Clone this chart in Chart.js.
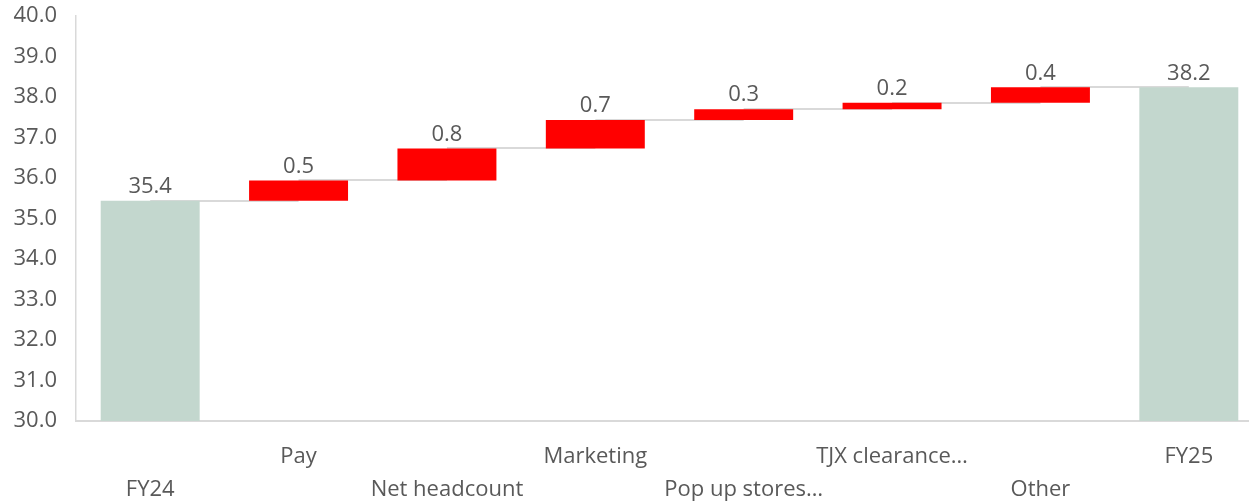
<!DOCTYPE html>
<html>
<head>
<meta charset="utf-8">
<script src="https://cdn.jsdelivr.net/npm/chart.js@4"></script>
<style>
  html, body { margin: 0; padding: 0; background: #fff; overflow: hidden; }
</style>
</head>
<body>
<canvas id="chart" width="1263" height="502"></canvas>
<script>
// labels are staggered on two rows like the original
const categories = [
  ['', 'FY24'], ['Pay', ''], ['', 'Net headcount'], ['Marketing', ''],
  ['', 'Pop up stores…'], ['TJX clearance…', ''], ['', 'Other'], ['FY25', '']
];
const openingValue = 35.44;
const changes = [0.50, 0.79, 0.70, 0.27, 0.16, 0.38];
const closingValue = 38.24;
const yTicks = { min: 30, max: 40, step: 1 };

const TEXT = '#595959';
const LINE = '#d9d9d9';
const TOTAL_COLOR = '#c3d7ce';
const UP_COLOR = '#ff0000';
const FONT = '"Open Sans", sans-serif';

// build floating bars [from, to]
const ranges = [[yTicks.min, openingValue]];
const shown = [openingValue];
let level = openingValue;
changes.forEach(c => {
  ranges.push([level, level + c]);
  shown.push(c);
  level += c;
});
ranges.push([yTicks.min, closingValue]);
shown.push(closingValue);
const colors = ranges.map((r, i) => (i === 0 || i === ranges.length - 1) ? TOTAL_COLOR : UP_COLOR);

const connectors = {
  id: 'connectors',
  beforeDatasetsDraw(chart) {
    const ctx = chart.ctx;
    const bars = chart.getDatasetMeta(0).data;
    const y = chart.scales.y;
    ctx.save();
    ctx.strokeStyle = LINE;
    ctx.lineWidth = 2;
    for (let i = 0; i < bars.length - 1; i++) {
      const py = Math.round(y.getPixelForValue(ranges[i][1]));
      ctx.beginPath();
      ctx.moveTo(bars[i].x, py);
      ctx.lineTo(bars[i + 1].x, py);
      ctx.stroke();
    }
    ctx.restore();
  }
};

const valueLabels = {
  id: 'valueLabels',
  afterDatasetsDraw(chart) {
    const ctx = chart.ctx;
    const bars = chart.getDatasetMeta(0).data;
    const y = chart.scales.y;
    ctx.save();
    ctx.fillStyle = TEXT;
    ctx.font = '22px ' + FONT;
    ctx.textAlign = 'center';
    ctx.textBaseline = 'middle';
    bars.forEach((bar, i) => {
      const top = y.getPixelForValue(Math.max(ranges[i][0], ranges[i][1]));
      ctx.fillText(shown[i].toFixed(1), bar.x, top - 14);
    });
    ctx.restore();
  }
};

new Chart(document.getElementById('chart').getContext('2d'), {
  type: 'bar',
  data: {
    labels: categories,
    datasets: [{
      data: ranges,
      backgroundColor: colors,
      borderWidth: 0,
      barPercentage: 0.667,
      categoryPercentage: 1
    }]
  },
  options: {
    responsive: false,
    animation: false,
    layout: { padding: { top: 16, right: 0, left: 0, bottom: 0 } },
    plugins: {
      legend: { display: false },
      tooltip: { enabled: false }
    },
    scales: {
      x: {
        offset: true,
        grid: { display: false },
        border: { display: true, color: LINE, width: 2 },
        ticks: {
          color: TEXT,
          padding: 11,
          autoSkip: false,
          maxRotation: 0,
          font: { family: FONT, size: 22, lineHeight: '33px' }
        },
        afterFit(scale) { scale.height = 81; }
      },
      y: {
        min: yTicks.min,
        max: yTicks.max,
        grid: { display: false },
        border: { display: true, color: LINE, width: 1.5 },
        ticks: {
          stepSize: yTicks.step,
          color: TEXT,
          padding: 11,
          font: { family: FONT, size: 22 },
          callback: v => v.toFixed(1)
        },
        afterFit(scale) {
          scale.width = 76;
          scale.paddingTop = 0;
          scale.paddingBottom = 0;
        }
      }
    }
  },
  plugins: [connectors, valueLabels]
});
</script>
</body>
</html>
